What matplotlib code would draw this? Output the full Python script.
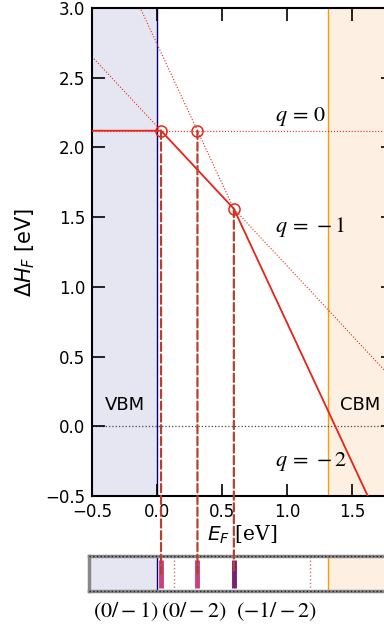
import numpy as np
import matplotlib; matplotlib.use('Agg')
import matplotlib.pyplot as plt
from matplotlib.patches import ConnectionPatch

# ── data ──
charges = [0, -1, -2]
H_vbm = [2.12, 2.151, 2.742]          # formation energy at E_F = 0 (eV)
q_labels = [r'$q\,=\,0$', r'$q\,=\,-1$', r'$q\,=\,-2$']
q_label_pos = [(0.91, 2.22), (0.91, 1.43), (0.91, -0.25)]
trans_E = [0.031, 0.311, 0.591]        # transition levels (eV)
trans_H = [2.12, 2.12, 1.56]
trans_names = [r'$(0/-1)$', r'$(0/-2)$', r'$(-1/-2)$']
trans_colors = ['#c8407c', '#c8407c', '#7b1f6e']
other_levels = [0.13, 1.18]
vbm, cbm = 0.0, 1.315
xlim = (-0.5, 1.815)
ylim = (-0.5, 3.0)

RED = '#e8261b'
DASH = '#b5412f'

plt.rcParams.update({
    'font.family': 'DejaVu Sans', 'font.size': 12,
    'xtick.direction': 'in', 'ytick.direction': 'in',
    'xtick.top': True, 'ytick.right': True,
    'xtick.major.size': 9, 'ytick.major.size': 9,
    'xtick.major.width': 1.2, 'ytick.major.width': 1.2,
    'xtick.major.pad': 5, 'ytick.major.pad': 5,
    'axes.linewidth': 1.5,
    'mathtext.fontset': 'dejavusans',
    'mathtext.rm': 'DejaVu Serif',
})

fig = plt.figure(figsize=(3.84, 6.32), dpi=100)
W, Hh = 384, 632
ax = fig.add_axes([92/W, (Hh-496)/Hh, 301/W, 488/Hh])
axb = fig.add_axes([89/W, (Hh-591)/Hh, 304/W, 35/Hh])

# ── main panel ──
ax.axvspan(xlim[0], vbm, color='#e6e6f2', lw=0, zorder=0)
ax.axvspan(cbm, xlim[1], color='#fdefe1', lw=0, zorder=0)
ax.axvline(vbm, color='#000080', lw=1, zorder=1)
ax.axvline(cbm, color='#ff9a00', lw=1, zorder=1)
ax.axhline(0, color='#444', ls=':', lw=0.9, zorder=1)

xs = np.array(xlim)
for q, h in zip(charges, H_vbm):
    ax.plot(xs, h + q*xs, ':', color=RED, lw=0.8, zorder=2)

# stable envelope through transition points
env_x = [xlim[0], trans_E[0], trans_E[2], xlim[1]]
env_y = [min(h + q*x for q, h in zip(charges, H_vbm)) for x in env_x]
ax.plot(env_x, env_y, '-', color=RED, lw=1.3, zorder=3)
ax.plot(trans_E, trans_H, 'o', ms=8, mfc='none', mec=RED, mew=1.1, zorder=4)

for (x, y), lab in zip(q_label_pos, q_labels):
    ax.text(x, y, lab, fontsize=16, math_fontfamily='stix', ha='left', va='center')
ax.text(-0.25, 0.15, 'VBM', ha='center', va='center', fontsize=13)
ax.text(cbm + 0.25, 0.15, 'CBM', ha='center', va='center', fontsize=13)

ax.set_xlim(xlim); ax.set_ylim(ylim)
ax.set_xticks([-0.5, 0.0, 0.5, 1.0, 1.5])
ax.set_yticks(np.arange(-0.5, 3.01, 0.5))
ax.set_ylabel(r'$\Delta H_F$ [eV]', fontsize=15, labelpad=6)
ax.set_xlabel(r'$E_F\ \mathrm{[eV]}$', fontsize=14.5, math_fontfamily='custom', labelpad=2)

# ── transition-level bar ──
axb.set_xlim(xlim[0] - 3/130, xlim[1]); axb.set_ylim(0, 1)
axb.axvspan(axb.get_xlim()[0], vbm, color='#e6e6f2', lw=0, zorder=0)
axb.axvspan(cbm, xlim[1], color='#fdefe1', lw=0, zorder=0)
axb.axvline(vbm, color='#000080', lw=1)
axb.axvline(cbm, color='#ff9a00', lw=1)
for x in other_levels:
    axb.axvline(x, color='#d07070', ls=':', lw=1)
for x, c in zip(trans_E, trans_colors):
    axb.plot([x, x], [0.1, 0.9], color=c, lw=3.5, solid_capstyle='butt', zorder=3)
axb.set_xticks([]); axb.set_yticks([])
for s in axb.spines.values():
    s.set_color('#888'); s.set_linewidth(2.5)
for y in (0, 1):
    axb.axhline(y, color='#222', ls=':', lw=1, clip_on=False, zorder=5)

label_x = [126, 194, 277]
for px, lab in zip(label_x, trans_names):
    fig.text(px/W, (Hh-612)/Hh, lab, fontsize=16, math_fontfamily='stix', ha='center', va='center')

# dashed connectors from transition points down to the bar
for x, y in zip(trans_E, trans_H):
    con = ConnectionPatch(xyA=(x, y), coordsA=ax.transData, xyB=(x, 0.5), coordsB=axb.transData,
                          color=DASH, ls='--', lw=1.6, zorder=6)
    fig.add_artist(con)

fig.savefig('out.png', dpi=100)
